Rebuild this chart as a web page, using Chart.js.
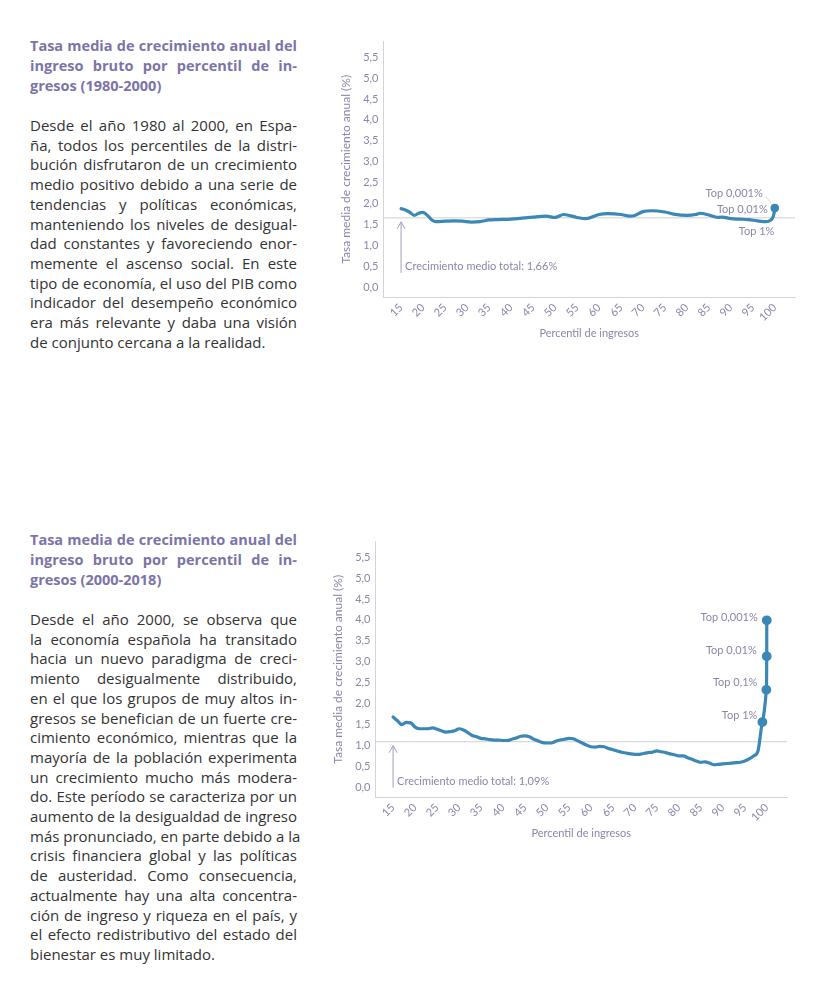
<!DOCTYPE html>
<html lang="es">
<head>
<meta charset="utf-8">
<script src="https://cdn.jsdelivr.net/npm/chart.js@4/dist/chart.umd.min.js"></script>
<style>
  html, body { margin: 0; padding: 0; background: #fff; }
  body { width: 833px; height: 1000px; position: relative; font-family: "Open Sans", sans-serif; }
  .text { position: absolute; left: 30px; width: 267px; }
  .text div { white-space: nowrap; text-align: justify; text-align-last: justify; }
  .text div.last { text-align-last: left; }
  .title { color: #7b74a8; font-weight: bold; font-size: 14.5px; line-height: 20px; }
  .body { color: #333; font-size: 15px; line-height: 19.7px; }
  canvas { position: absolute; }
</style>
</head>
<body>

<div class="text title" style="top:36px">
  <div>Tasa media de crecimiento anual del</div>
  <div>ingreso bruto por percentil de in-</div>
  <div class="last">gresos (1980-2000)</div>
</div>
<div class="text body" style="top:116px">
  <div>Desde el año 1980 al 2000, en Espa-</div>
  <div>ña, todos los percentiles de la distri-</div>
  <div>bución disfrutaron de un crecimiento</div>
  <div>medio positivo debido a una serie de</div>
  <div>tendencias y políticas económicas,</div>
  <div>manteniendo los niveles de desigual-</div>
  <div>dad constantes y favoreciendo enor-</div>
  <div>memente el ascenso social. En este</div>
  <div>tipo de economía, el uso del PIB como</div>
  <div>indicador del desempeño económico</div>
  <div>era más relevante y daba una visión</div>
  <div class="last">de conjunto cercana a la realidad.</div>
</div>

<div class="text title" style="top:530px">
  <div>Tasa media de crecimiento anual del</div>
  <div>ingreso bruto por percentil de in-</div>
  <div class="last">gresos (2000-2018)</div>
</div>
<div class="text body" style="top:610px">
  <div>Desde el año 2000, se observa que</div>
  <div>la economía española ha transitado</div>
  <div>hacia un nuevo paradigma de creci-</div>
  <div>miento desigualmente distribuido,</div>
  <div>en el que los grupos de muy altos in-</div>
  <div>gresos se benefician de un fuerte cre-</div>
  <div>cimiento económico, mientras que la</div>
  <div>mayoría de la población experimenta</div>
  <div>un crecimiento mucho más modera-</div>
  <div>do. Este período se caracteriza por un</div>
  <div>aumento de la desigualdad de ingreso</div>
  <div>más pronunciado, en parte debido a la</div>
  <div>crisis financiera global y las políticas</div>
  <div>de austeridad. Como consecuencia,</div>
  <div>actualmente hay una alta concentra-</div>
  <div>ción de ingreso y riqueza en el país, y</div>
  <div>el efecto redistributivo del estado del</div>
  <div class="last">bienestar es muy limitado.</div>
</div>

<canvas id="chart1" style="left:330px; top:30px; width:480px; height:330px"></canvas>
<canvas id="chart2" style="left:322px; top:530px; width:480px; height:330px"></canvas>

<script>
// data 1980-2000
var percentiles1980 = [15, 16, 17, 18, 19, 20, 21, 22, 23, 25, 27, 29, 31, 33, 35, 37, 40, 43, 45, 48,
    50, 52, 55, 57, 60, 62, 65, 67, 68, 70, 72, 75, 77, 80, 82, 83, 85, 87, 88, 90,
    92, 94, 96, 98, 99, 99.9, 99.99, 99.999];
var growth1980 = [1.88, 1.85, 1.79, 1.72, 1.77, 1.79, 1.72, 1.61, 1.57, 1.58, 1.59, 1.58, 1.56, 1.57, 1.61, 1.62, 1.63, 1.66, 1.68, 1.70,
    1.67, 1.74, 1.67, 1.64, 1.74, 1.76, 1.74, 1.70, 1.71, 1.81, 1.83, 1.80, 1.75, 1.72, 1.74, 1.77, 1.73, 1.67, 1.68, 1.64,
    1.63, 1.62, 1.59, 1.57, 1.60, 1.80, 1.89, 1.90];
var average1980 = 1.66;

// data 2000-2018
var percentiles2000 = [15, 16, 17, 18, 19, 20, 21, 22, 23, 24, 25, 26, 27, 28, 29, 30, 31, 32, 33, 34,
    35, 36, 37, 38, 39, 40, 41, 42, 43, 44, 45, 46, 47, 48, 49, 50, 51, 52, 53, 54,
    55, 56, 57, 58, 59, 60, 61, 62, 63, 64, 65, 66, 67, 68, 69, 70, 71, 72, 73, 74,
    75, 76, 77, 78, 79, 80, 81, 82, 83, 84, 85, 86, 87, 88, 89, 90, 91, 92, 93, 94,
    95, 96, 97, 98, 99, 99.9, 99.99, 99.999];
var growth2000 = [1.68, 1.59, 1.50, 1.55, 1.54, 1.44, 1.40, 1.40, 1.40, 1.42, 1.39, 1.35, 1.32, 1.33, 1.35, 1.40, 1.37, 1.31, 1.24, 1.21,
    1.17, 1.16, 1.14, 1.13, 1.13, 1.12, 1.12, 1.15, 1.18, 1.22, 1.23, 1.21, 1.15, 1.11, 1.07, 1.06, 1.06, 1.10, 1.13, 1.15,
    1.17, 1.16, 1.11, 1.06, 1.01, 0.97, 0.96, 0.98, 0.97, 0.93, 0.90, 0.87, 0.84, 0.82, 0.80, 0.79, 0.79, 0.81, 0.83, 0.84,
    0.87, 0.85, 0.83, 0.80, 0.78, 0.75, 0.75, 0.71, 0.67, 0.63, 0.60, 0.61, 0.58, 0.54, 0.55, 0.56, 0.57, 0.58, 0.59, 0.60,
    0.63, 0.68, 0.75, 0.87, 1.56, 2.33, 3.13, 3.99];
var average2000 = 1.09;

var xTicks = [15, 20, 25, 30, 35, 40, 45, 50, 55, 60, 65, 70, 75, 80, 85, 90, 95, 100];
var yTicks = [0, 0.5, 1, 1.5, 2, 2.5, 3, 3.5, 4, 4.5, 5, 5.5];

var lineColor = '#3b87b5';
var textColor = '#8a86aa';
var axisColor = '#d4d4d8';

var annotate = {
    id: 'annotate',
    beforeDatasetsDraw: function (chart, args, o) {
        var ctx = chart.ctx, a = chart.chartArea;
        var yAvg = chart.scales.y.getPixelForValue(o.average);
        ctx.save();
        ctx.strokeStyle = '#cfcfcf';
        ctx.lineWidth = 1;
        ctx.beginPath();
        ctx.moveTo(a.left, yAvg);
        ctx.lineTo(a.right, yAvg);
        ctx.stroke();
        ctx.restore();
    },
    afterDatasetsDraw: function (chart, args, o) {
        var ctx = chart.ctx, x = chart.scales.x, y = chart.scales.y;
        var data = chart.data.datasets[0].data;
        var yAvg = y.getPixelForValue(o.average);
        var ax = x.getPixelForValue(data[0].x);
        var yNote = y.getPixelForValue(o.noteY);
        ctx.save();
        // arrow to the average line
        ctx.strokeStyle = '#a19dbd';
        ctx.lineWidth = 1;
        ctx.beginPath();
        ctx.moveTo(ax, yAvg + 4);
        ctx.lineTo(ax, yNote + 6);
        ctx.moveTo(ax - 4, yAvg + 11);
        ctx.lineTo(ax, yAvg + 4);
        ctx.lineTo(ax + 4, yAvg + 11);
        ctx.stroke();
        ctx.font = '11px Lato';
        ctx.fillStyle = textColor;
        ctx.textBaseline = 'middle';
        ctx.textAlign = 'left';
        ctx.fillText(o.note, ax + 4, yNote);
        // top labels
        ctx.textAlign = 'right';
        o.labels.forEach(function (l) {
            var p = data[l.index];
            var px = x.getPixelForValue(p.x), py = y.getPixelForValue(p.y);
            ctx.fillText(l.text, px + l.dx, py + l.dy);
            if (l.leader) {
                ctx.setLineDash([1, 1.5]);
                ctx.beginPath();
                ctx.moveTo(px + l.dx + 3, py + l.dy + 3);
                ctx.lineTo(px - 2, py - 3);
                ctx.stroke();
                ctx.setLineDash([]);
            }
        });
        ctx.restore();
    }
};

function makeChart(id, xs, ys, radii, options) {
    var points = xs.map(function (v, i) { return {x: v, y: ys[i]}; });
    var font = {family: 'Lato', size: 11};
    return new Chart(document.getElementById(id), {
        type: 'line',
        data: {
            datasets: [{
                data: points,
                borderColor: lineColor,
                backgroundColor: lineColor,
                borderWidth: 3.2,
                pointRadius: radii,
                pointHoverRadius: radii,
                cubicInterpolationMode: 'monotone',
                borderCapStyle: 'round',
                borderJoinStyle: 'round'
            }]
        },
        options: {
            responsive: false,
            animation: false,
            events: [],
            layout: {padding: {top: 10, right: 15, left: 0, bottom: 0}},
            plugins: {
                legend: {display: false},
                tooltip: {enabled: false},
                annotate: options
            },
            scales: {
                x: {
                    type: 'linear',
                    min: 11,
                    max: 104.6,
                    afterBuildTicks: function (s) { s.ticks = xTicks.map(function (v) { return {value: v}; }); },
                    afterFit: function (s) { s.height = 63; },
                    ticks: {minRotation: 45, maxRotation: 45, color: textColor, font: font, padding: 4},
                    grid: {display: false, drawTicks: false},
                    border: {color: axisColor},
                    title: {display: true, text: 'Percentil de ingresos', color: textColor,
                        font: font, padding: {top: 0, bottom: 20}}
                },
                y: {
                    min: -0.23,
                    max: 5.87,
                    afterBuildTicks: function (s) { s.ticks = yTicks.map(function (v) { return {value: v}; }); },
                    afterFit: function (s) { s.width = 53.5; },
                    ticks: {
                        color: textColor, font: font, padding: 5,
                        callback: function (v) { return v.toFixed(1).replace('.', ','); }
                    },
                    grid: {display: false, drawTicks: false},
                    border: {color: axisColor},
                    title: {display: true, text: 'Tasa media de crecimiento anual (%)', color: textColor,
                        font: {family: 'Lato', size: 12}, padding: {top: 9, bottom: 0}}
                }
            }
        },
        plugins: [annotate]
    });
}

var radii1980 = growth1980.map(function (v, i) { return i >= growth1980.length - 2 ? 2.5 : 0; });
var radii2000 = growth2000.map(function (v, i) { return i >= growth2000.length - 4 ? 3.3 : 0; });
var n1 = growth1980.length, n2 = growth2000.length;

makeChart('chart1', percentiles1980, growth1980, radii1980, {
    average: average1980,
    noteY: 0.49,
    note: 'Crecimiento medio total: 1,66%',
    labels: [
        {index: n1 - 1, text: 'Top 0,001%', dx: -12, dy: -14, leader: true},
        {index: n1 - 2, text: 'Top 0,01%', dx: -7, dy: 1},
        {index: n1 - 4, text: 'Top 1%', dx: 4, dy: 11}
    ]
});

makeChart('chart2', percentiles2000, growth2000, radii2000, {
    average: average2000,
    noteY: 0.14,
    note: 'Crecimiento medio total: 1,09%',
    labels: [
        {index: n2 - 1, text: 'Top 0,001%', dx: -9, dy: -3},
        {index: n2 - 2, text: 'Top 0,01%', dx: -10, dy: -6},
        {index: n2 - 3, text: 'Top 0,1%', dx: -9, dy: -7},
        {index: n2 - 4, text: 'Top 1%', dx: -5, dy: -7}
    ]
});
</script>
</body>
</html>
